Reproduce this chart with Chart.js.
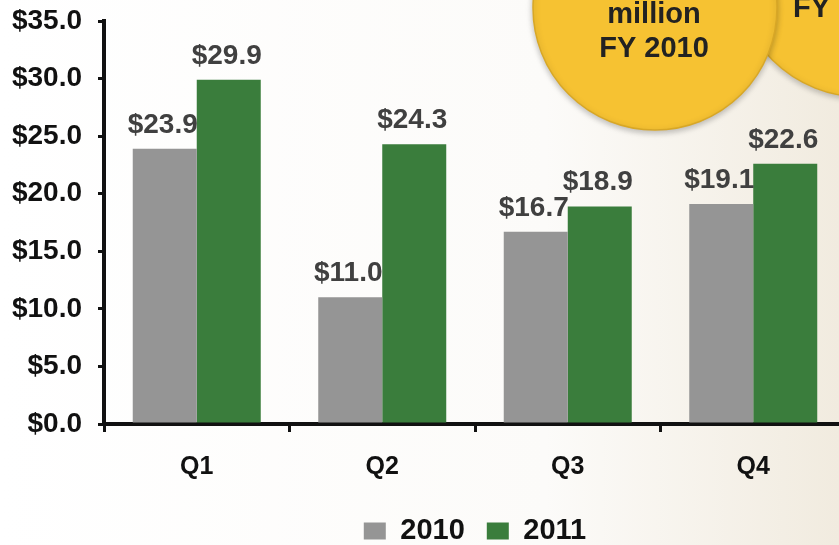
<!DOCTYPE html>
<html>
<head>
<meta charset="utf-8">
<script src="https://cdn.jsdelivr.net/npm/chart.js@4/dist/chart.umd.min.js"></script>
<style>
  html, body { margin: 0; padding: 0; }
  body {
    width: 839px; height: 545px; overflow: hidden;
    background: linear-gradient(to right, #ffffff 0%, #fcfbf9 65%, #f1ebdf 100%);
  }
  #wrap { width: 950px; height: 545px; }
</style>
</head>
<body>
<div id="wrap"><canvas id="salesChart" width="950" height="545"></canvas></div>
<script>
// quarterly figures ($ million)
const quarters = ['Q1', 'Q2', 'Q3', 'Q4'];
const sales2010 = [23.9, 11.0, 16.7, 19.1];
const sales2011 = [29.9, 24.3, 18.9, 22.6];
const seriesNames = ['2010', '2011'];

const GRAY = '#959595';
const GREEN = '#3a7d3c';

Chart.defaults.font.family = '"Liberation Sans", Arial, sans-serif';
Chart.defaults.font.weight = 'bold';
Chart.defaults.color = '#1a1a1a';

// yellow bubbles in the top right corner, drawn behind the chart
const bubbles = {
  id: 'bubbles',
  beforeDraw(chart) {
    const ctx = chart.ctx;
    ctx.save();
    ctx.shadowColor = 'rgba(0,0,0,0.25)';
    ctx.shadowBlur = 6;
    ctx.shadowOffsetY = 2;
    ctx.fillStyle = '#f6c232';
    ctx.strokeStyle = '#d8a726';
    ctx.lineWidth = 1.5;

    ctx.beginPath();
    ctx.arc(862, -30, 127, 0, Math.PI * 2);
    ctx.fill();
    ctx.stroke();

    ctx.beginPath();
    ctx.arc(655, 8, 122, 0, Math.PI * 2);
    ctx.fill();
    ctx.stroke();

    ctx.shadowColor = 'transparent';
    ctx.fillStyle = '#222';
    ctx.font = 'bold 29px "Liberation Sans", Arial, sans-serif';
    ctx.textAlign = 'center';
    ctx.textBaseline = 'alphabetic';
    ctx.fillText('million', 654, 23);
    ctx.fillText('FY 2010', 654, 57);
    ctx.fillText('FY 2011', 847, 17);
    ctx.restore();
  },
  // legend goes under the middle of the plot and a bit lower
  afterLayout(chart) {
    const lg = chart.legend;
    const dx = (chart.chartArea.left + chart.chartArea.right) / 2 - (lg.left + lg.right) / 2;
    lg.left += dx;
    lg.right += dx;
    const dy = 525 - (lg.top + lg.bottom) / 2;
    lg.top += dy;
    lg.bottom += dy;
  }
};

// value labels above every bar
const valueLabels = {
  id: 'valueLabels',
  afterDatasetsDraw(chart) {
    const ctx = chart.ctx;
    ctx.save();
    ctx.font = 'bold 28px "Liberation Sans", Arial, sans-serif';
    ctx.fillStyle = '#404040';
    ctx.textAlign = 'center';
    ctx.textBaseline = 'alphabetic';
    chart.data.datasets.forEach((ds, i) => {
      chart.getDatasetMeta(i).data.forEach((bar, j) => {
        ctx.fillText('$' + ds.data[j].toFixed(1), bar.x - 2, bar.y - 16);
      });
    });
    ctx.restore();
  }
};

new Chart(document.getElementById('salesChart'), {
  type: 'bar',
  data: {
    labels: quarters,
    datasets: [
      { label: seriesNames[0], data: sales2010, backgroundColor: GRAY },
      { label: seriesNames[1], data: sales2011, backgroundColor: GREEN }
    ]
  },
  options: {
    responsive: false,
    animation: false,
    devicePixelRatio: 1,
    categoryPercentage: 0.69,
    barPercentage: 1.0,
    layout: { padding: { top: 0, right: 104, left: 0, bottom: 0 } },
    scales: {
      x: {
        grid: { drawOnChartArea: false, tickLength: 8, color: '#111', lineWidth: 3 },
        border: { color: '#111', width: 4 },
        ticks: { font: { size: 25, weight: 'bold' }, color: '#111', padding: 20 },
        afterFit(scale) { scale.height = 60; }
      },
      y: {
        min: 0,
        max: 35,
        grid: { drawOnChartArea: false, tickLength: 6, color: '#111', lineWidth: 3 },
        border: { color: '#111', width: 4 },
        ticks: {
          stepSize: 5,
          padding: 16,
          font: { size: 28, weight: 'bold', lineHeight: 0.36 },
          color: '#111',
          callback: (v) => '$' + Number(v).toFixed(1)
        },
        afterFit(scale) { scale.width = 104; }
      }
    },
    plugins: {
      legend: {
        position: 'bottom',
        labels: {
          boxWidth: 22,
          boxHeight: 17,
          padding: 22,
          color: '#111',
          font: { size: 29, weight: 'bold' }
        }
      },
      tooltip: { enabled: false }
    }
  },
  plugins: [bubbles, valueLabels]
});
</script>
</body>
</html>
